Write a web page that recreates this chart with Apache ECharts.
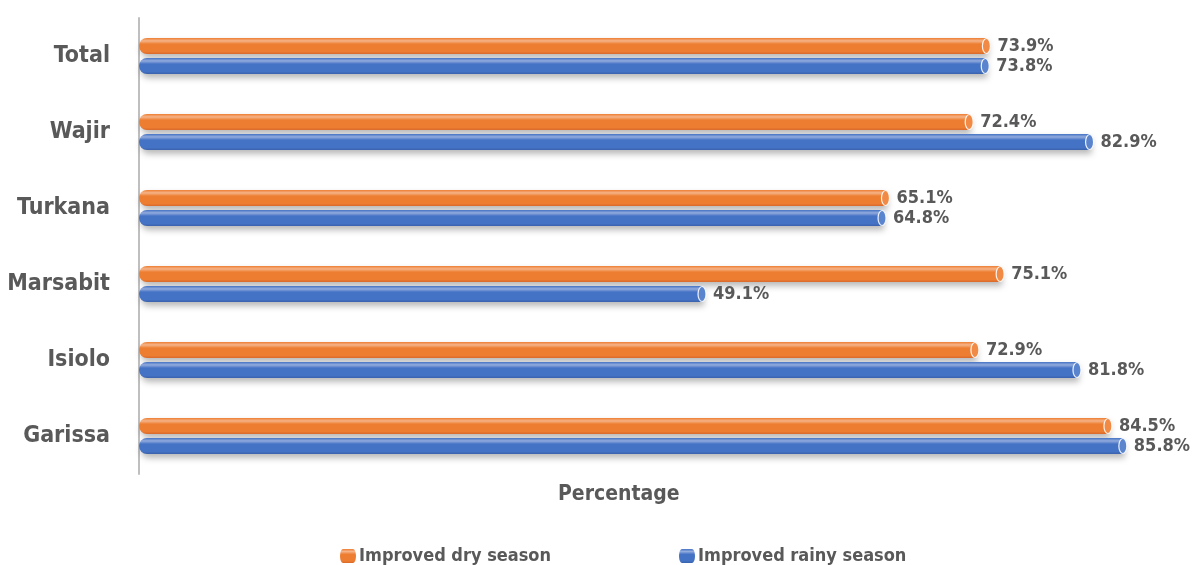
<!DOCTYPE html>
<html><head><meta charset="utf-8">
<script src="https://cdn.jsdelivr.net/npm/echarts@6/dist/echarts.min.js"></script>
<style>html,body{margin:0;padding:0;background:#fff}#c{width:1192px;height:565px}</style>
</head><body><div id="c"></div>
<script>
const categories = ['Garissa', 'Isiolo', 'Marsabit', 'Turkana', 'Wajir', 'Total'];
const dryValues = [84.5, 72.9, 75.1, 65.1, 72.4, 73.9];
const rainyValues = [85.8, 81.8, 49.1, 64.8, 82.9, 73.8];
const seriesNames = ['Improved dry season', 'Improved rainy season'];
const axisTitle = 'Percentage';

const FONT = '"DejaVu Sans Condensed", "Liberation Sans Narrow", sans-serif';
const BAR_W = 16, GAP = 4;
const colors = {
  dry: {base: '#ED7D31', light: '#F6B489', dark: '#D9692A', cap: '#F08A45'},
  rainy: {base: '#4472C4', light: '#93ABDD', dark: '#3A62AC', cap: '#5A84CE'}
};
function grad(c) {
  return new echarts.graphic.LinearGradient(0, 0, 0, 1, [
    {offset: 0, color: c.base},
    {offset: 0.18, color: c.light},
    {offset: 0.38, color: c.base},
    {offset: 0.85, color: c.base},
    {offset: 1, color: c.dark}
  ]);
}
function barSeries(name, vals, c) {
  return {
    name: name, type: 'bar', data: vals,
    barWidth: BAR_W, barGap: (GAP / BAR_W * 100) + '%',
    itemStyle: {color: grad(c), borderRadius: [8, 0, 0, 8],
      shadowColor: 'rgba(0,0,0,0.28)', shadowBlur: 6, shadowOffsetY: 4, shadowOffsetX: 2},
    label: {show: true, position: 'right', distance: 11,
      formatter: p => p.value.toFixed(1) + '%',
      fontFamily: FONT, fontWeight: 'bold', fontSize: 18, color: '#595959'},
    z: 2
  };
}
function capSeries(name, vals, c, dir) {
  return {
    name: name + ' cap', type: 'custom', z: 3, silent: true,
    data: vals.map((v, i) => [v, i]),
    renderItem: function (params, api) {
      const p = api.coord([api.value(0), api.value(1)]);
      const off = dir * (BAR_W + GAP) / 2;
      return {type: 'ellipse', shape: {cx: p[0], cy: p[1] + off, rx: 4, ry: BAR_W / 2 - 0.5},
        style: {fill: c.cap, stroke: 'rgba(255,255,255,0.9)', lineWidth: 1.2}};
    }
  };
}
const chart = echarts.init(document.getElementById('c'), null, {renderer: 'canvas'});
chart.setOption({
  animation: false,
  title: {text: axisTitle, left: 553, top: 479,
    textStyle: {fontFamily: FONT, fontWeight: 'bold', fontSize: 21, color: '#595959'}},
  legend: {
    data: seriesNames, left: 335, top: 542, itemGap: 128, itemWidth: 16, itemHeight: 14,
    icon: 'path://M3,0 H13 A3,7 0 0 1 13,14 H3 A3,7 0 0 1 3,0 Z',
    textStyle: {fontFamily: FONT, fontWeight: 'bold', fontSize: 18, color: '#595959', padding: [0, 0, 0, -2]}
  },
  grid: {left: 139, right: 21, top: 18, bottom: 91, containLabel: false, outerBoundsMode: 'none'},
  xAxis: {type: 'value', min: 0, max: 90, show: false},
  yAxis: {type: 'category', data: categories,
    axisLine: {show: true, lineStyle: {color: '#BFBFBF', width: 2}},
    axisTick: {show: false},
    axisLabel: {fontFamily: FONT, fontWeight: 'bold', fontSize: 23, color: '#595959', margin: 29}
  },
  series: [
    barSeries(seriesNames[0], dryValues, colors.dry),
    barSeries(seriesNames[1], rainyValues, colors.rainy),
    capSeries(seriesNames[0], dryValues, colors.dry, -1),
    capSeries(seriesNames[1], rainyValues, colors.rainy, 1)
  ]
});
</script></body></html>
